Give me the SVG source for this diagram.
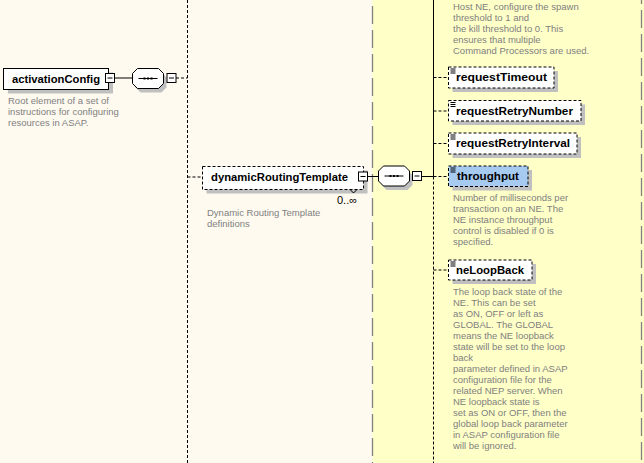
<svg xmlns="http://www.w3.org/2000/svg" width="644" height="463" viewBox="0 0 644 463">
<style>
.lbl{font-family:"Liberation Sans",Arial,sans-serif;font-weight:bold;font-size:11.5px;fill:#000}
.desc{font-family:"Liberation Sans",Arial,sans-serif;font-size:9.5px;fill:#808080}
.sh{fill:#c0c0c0;stroke:none}
.box{fill:#fff;stroke:#000;stroke-width:1}
.dbox{fill:#fff;stroke:#000;stroke-width:1;stroke-dasharray:3,2}
.sel{fill:#a6caf0;stroke:#000;stroke-width:1;stroke-dasharray:3,2}
.ln{stroke:#000;stroke-width:1;fill:none}
.dl{stroke:#000;stroke-width:1;fill:none;stroke-dasharray:3,2}
.sep{stroke:#808080;stroke-width:1.3;fill:none;stroke-dasharray:18,6}
.mb{fill:#fff;stroke:#000;stroke-width:1}
</style>
<defs>
<g id="minus"><rect class="mb" x="0" y="0" width="9" height="9"/><line class="ln" x1="2" y1="4.5" x2="7" y2="4.5"/></g>
<g id="seq">
<polygon class="sh" points="8,4 29,4 34,9 34,19 29,24 8,24 3,19 3,9"/>
<polygon class="box" points="5,0 26,0 31,5 31,15 26,20 5,20 0,15 0,5"/>
<line class="ln" x1="6" y1="10" x2="25" y2="10"/>
<rect x="11" y="9" width="2" height="2" fill="#000"/>
<rect x="14.5" y="9" width="2" height="2" fill="#000"/>
<rect x="18" y="9" width="2" height="2" fill="#000"/>
</g>
<g id="ico"><path class="ln" d="M0,0.5h5M0,2.5h5M0,4.5h5"/></g>
</defs>

<rect x="0" y="0" width="372.5" height="463" fill="#fffaf0"/>
<rect x="372.5" y="0" width="271.5" height="463" fill="#ffffc8"/>
<line class="sep" x1="372.5" y1="0" x2="372.5" y2="463" stroke-dashoffset="18"/>
<line class="sep" x1="641.5" y1="0" x2="641.5" y2="463" stroke-dashoffset="14"/>

<g id="connectors">
<line class="dl" x1="187.5" y1="0" x2="187.5" y2="463"/>
<line class="ln" x1="114.5" y1="78" x2="133" y2="78"/>
<line class="dl" x1="176" y1="78" x2="187.5" y2="78"/>
<line class="dl" x1="187.5" y1="177" x2="202.5" y2="177"/>
<line class="ln" x1="367.5" y1="176.5" x2="378.5" y2="176.5"/>
<line class="ln" x1="421.5" y1="176.5" x2="433.5" y2="176.5"/>
<line class="ln" x1="433.5" y1="0" x2="433.5" y2="176.5"/>
<line class="dl" x1="433.5" y1="176.5" x2="433.5" y2="463"/>
<line class="dl" x1="433.5" y1="77.5" x2="448.5" y2="77.5"/>
<line class="dl" x1="433.5" y1="111" x2="448.5" y2="111"/>
<line class="dl" x1="433.5" y1="143.5" x2="448.5" y2="143.5"/>
<line class="dl" x1="433.5" y1="176.5" x2="448.5" y2="176.5"/>
<line class="dl" x1="433.5" y1="270" x2="448.5" y2="270"/>
</g>

<g id="topdesc">
<text class="desc" x="453" y="10">Host NE, configure the spawn</text>
<text class="desc" x="453" y="21">threshold to 1 and</text>
<text class="desc" x="453" y="32">the kill threshold to 0. This</text>
<text class="desc" x="453" y="43">ensures that multiple</text>
<text class="desc" x="453" y="54">Command Processors are used.</text>
</g>

<g id="activationConfig">
<rect class="sh" x="8" y="72.5" width="105" height="21"/>
<rect class="box" x="3.5" y="68.5" width="105" height="21"/>
<text class="lbl" x="12" y="82.5" textLength="88" lengthAdjust="spacingAndGlyphs">activationConfig</text>
<use href="#minus" x="105.5" y="73.5"/>
<text class="desc" x="8" y="103.5">Root element of a set of</text>
<text class="desc" x="8" y="114.5">instructions for configuring</text>
<text class="desc" x="8" y="125.5">resources in ASAP.</text>
</g>

<g id="seq1">
<use href="#seq" x="132.5" y="68.5"/>
<use href="#minus" x="167" y="73.5"/>
</g>

<g id="dynamicRoutingTemplate">
<rect class="sh" x="206.5" y="170.5" width="161" height="23"/>
<rect class="dbox" x="202.5" y="166.5" width="161" height="23"/>
<polyline class="ln" points="350,189.5 353.5,193 357,189.5"/>
<text class="lbl" x="211" y="180.5" textLength="137" lengthAdjust="spacingAndGlyphs">dynamicRoutingTemplate</text>
<use href="#minus" x="358.5" y="172"/>
<text class="lbl" x="337" y="204" style="font-weight:normal;font-size:11px">0..∞</text>
<text class="desc" x="207" y="215.5">Dynamic Routing Template</text>
<text class="desc" x="207" y="226.5">definitions</text>
</g>

<g id="seq2">
<use href="#seq" x="378.5" y="166"/>
<use href="#minus" x="412.5" y="171.5"/>
</g>

<g id="requestTimeout">
<rect class="sh" x="452.5" y="71" width="105.5" height="21"/>
<rect class="dbox" x="448.5" y="67" width="105.5" height="21"/>
<use href="#ico" x="450.5" y="68.5"/>
<text class="lbl" x="456" y="81" textLength="91" lengthAdjust="spacingAndGlyphs">requestTimeout</text>
</g>

<g id="requestRetryNumber">
<rect class="sh" x="452.5" y="104.5" width="132.5" height="20.5"/>
<rect class="dbox" x="448.5" y="100.5" width="132.5" height="20.5"/>
<use href="#ico" x="450.5" y="102"/>
<text class="lbl" x="456" y="114.5" textLength="117" lengthAdjust="spacingAndGlyphs">requestRetryNumber</text>
</g>

<g id="requestRetryInterval">
<rect class="sh" x="452.5" y="137" width="128.5" height="21"/>
<rect class="dbox" x="448.5" y="133" width="128.5" height="21"/>
<use href="#ico" x="450.5" y="134.5"/>
<text class="lbl" x="456" y="147" textLength="114" lengthAdjust="spacingAndGlyphs">requestRetryInterval</text>
</g>

<g id="throughput">
<rect class="sh" x="452.5" y="170" width="79.5" height="20.5"/>
<rect class="sel" x="448.5" y="166" width="79.5" height="20.5"/>
<use href="#ico" x="450.5" y="167.5"/>
<text class="lbl" x="457" y="180" textLength="62" lengthAdjust="spacingAndGlyphs">throughput</text>
<text class="desc" x="453" y="200.5">Number of milliseconds per</text>
<text class="desc" x="453" y="211.5">transaction on an NE. The</text>
<text class="desc" x="453" y="222.5">NE instance throughput</text>
<text class="desc" x="453" y="233.5">control is disabled if 0 is</text>
<text class="desc" x="453" y="244.5">specified.</text>
</g>

<g id="neLoopBack">
<rect class="sh" x="452.5" y="264" width="83.5" height="20"/>
<rect class="dbox" x="448.5" y="260" width="83.5" height="20"/>
<use href="#ico" x="450.5" y="261.5"/>
<text class="lbl" x="456" y="273.5" textLength="68" lengthAdjust="spacingAndGlyphs">neLoopBack</text>
<text class="desc" x="453" y="294.5">The loop back state of the</text>
<text class="desc" x="453" y="305.5">NE. This can be set</text>
<text class="desc" x="453" y="316.5">as ON, OFF or left as</text>
<text class="desc" x="453" y="327.5">GLOBAL. The GLOBAL</text>
<text class="desc" x="453" y="338.5">means the NE loopback</text>
<text class="desc" x="453" y="349.5">state will be set to the loop</text>
<text class="desc" x="453" y="360.5">back</text>
<text class="desc" x="453" y="371.5">parameter defined in ASAP</text>
<text class="desc" x="453" y="382.5">configuration file for the</text>
<text class="desc" x="453" y="393.5">related NEP server. When</text>
<text class="desc" x="453" y="404.5">NE loopback state is</text>
<text class="desc" x="453" y="415.5">set as ON or OFF, then the</text>
<text class="desc" x="453" y="426.5">global loop back parameter</text>
<text class="desc" x="453" y="437.5">in ASAP configuration file</text>
<text class="desc" x="453" y="448.5">will be ignored.</text>
</g>
</svg>
